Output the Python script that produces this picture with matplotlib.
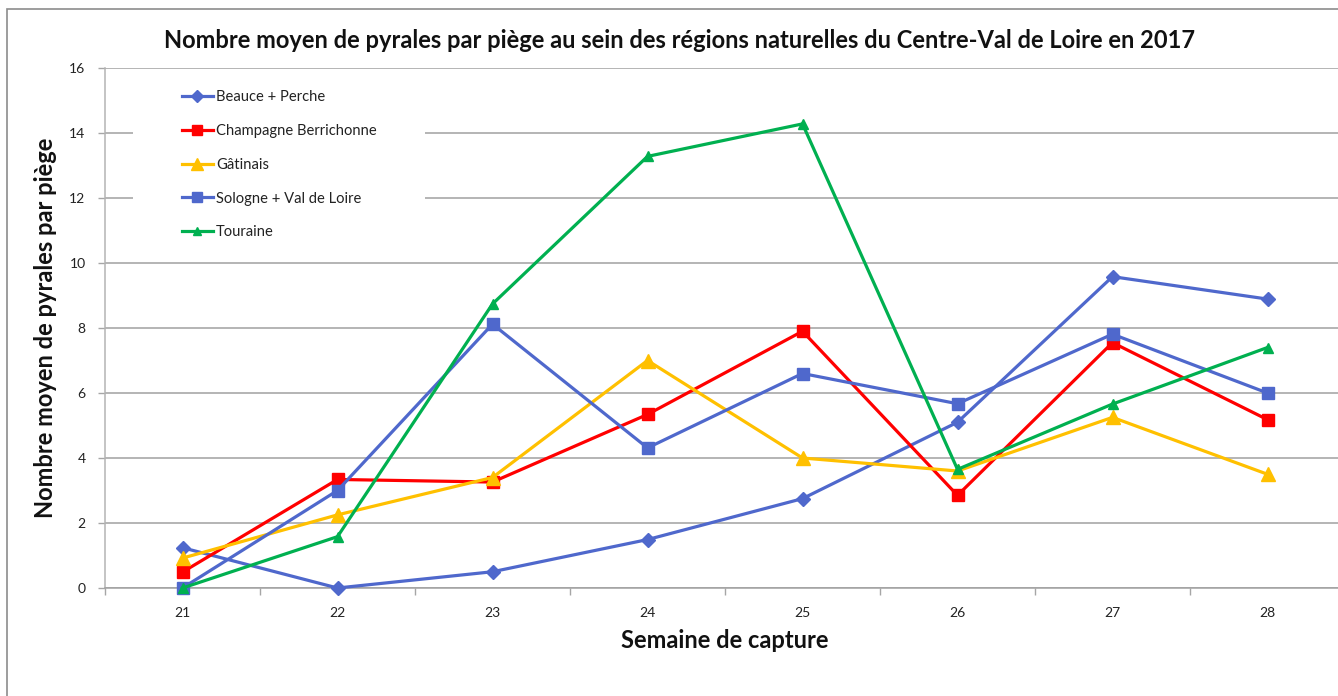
import matplotlib
matplotlib.use("Agg")
import matplotlib.pyplot as plt
from matplotlib.patches import Rectangle
from matplotlib.ticker import FixedLocator

plt.rcParams['font.family'] = ['Lato', 'DejaVu Sans']

weeks = [21, 22, 23, 24, 25, 26, 27, 28]
week_labels = ['21', '22', '23', '24', '25', '26', '27', '28']
beauce = [1.24, 0.0, 0.5, 1.49, 2.75, 5.1, 9.58, 8.89]
champagne = [0.49, 3.34, 3.26, 5.34, 7.9, 2.85, 7.55, 5.18]
gatinais = [0.92, 2.25, 3.4, 7.0, 4.0, 3.6, 5.25, 3.5]
sologne = [0.0, 3.0, 8.12, 4.31, 6.6, 5.67, 7.81, 6.0]
touraine = [0.0, 1.58, 8.74, 13.28, 14.28, 3.65, 5.66, 7.4]
series_names = ['Beauce + Perche', 'Champagne Berrichonne', 'Gâtinais',
                'Sologne + Val de Loire', 'Touraine']
y_ticks = [0, 2, 4, 6, 8, 10, 12, 14, 16]

W, H = 1338, 696
fig = plt.figure(figsize=(W / 100, H / 100), dpi=100)
fig.patch.set_facecolor('white')

# chart area border (cropped at right/bottom)
fig.patches.append(Rectangle((7 / W, -0.05), 1.1, 1 - 9 / H + 0.05,
                             transform=fig.transFigure, fill=False,
                             edgecolor='#8c8c8c', linewidth=1.2))

ax = fig.add_axes([105 / W, (H - 588) / H, (1345 - 105) / W, 520 / H])
ax.set_xlim(20.5, 28.5)
ax.set_ylim(0, 16)

ax.set_yticks(y_ticks)
ax.set_yticklabels([str(v) for v in y_ticks])
ax.set_xticks(weeks)
ax.set_xticklabels(week_labels)
ax.xaxis.set_minor_locator(FixedLocator([w - 0.5 for w in weeks] + [weeks[-1] + 0.5]))
ax.tick_params(axis='x', which='major', length=0, pad=14, labelsize=10, colors='#222222')
ax.tick_params(axis='x', which='minor', length=5, width=1, color='#a6a6a6', direction='out')
ax.tick_params(axis='y', which='major', length=5, width=1, color='#a6a6a6', pad=9,
               labelsize=10, labelcolor='#222222')

ax.grid(axis='y', color='#a0a0a0', linewidth=1.1)
ax.set_axisbelow(True)
for s in ['top', 'right']:
    ax.spines[s].set_visible(False)
ax.spines['left'].set_color('#b4b4b4')
ax.spines['bottom'].set_color('#a0a0a0')
ax.spines['left'].set_linewidth(1.1)
ax.spines['bottom'].set_linewidth(1.1)

blue = '#4f68cc'
styles = [
    (beauce, blue, 'D', 7.5),
    (champagne, '#ff0000', 's', 8.5),
    (gatinais, '#ffc000', '^', 9.5),
    (sologne, blue, 's', 8.5),
    (touraine, '#00b050', '^', 7.5),
]
handles = []
for i, (vals, col, mk, ms) in enumerate(styles):
    h, = ax.plot(weeks, vals, color=col, marker=mk, markersize=ms, linewidth=2.3,
                 markeredgecolor=col, label=series_names[i], zorder=3 + i,
                 clip_on=False)
    handles.append(h)

# white legend background covering gridlines
ax.add_patch(Rectangle((133 / W, 1 - 250 / H), (425 - 133) / W, (250 - 75) / H,
                       transform=fig.transFigure, facecolor='white', edgecolor='none',
                       zorder=2))
leg = ax.legend(handles=handles, loc='upper left', frameon=False,
                bbox_to_anchor=(182 / W, 1 - 90 / H), bbox_transform=fig.transFigure,
                borderpad=0, borderaxespad=0, fontsize=10.6, handlelength=2.1,
                handletextpad=0.2, labelspacing=1.35, markerscale=0.85)
leg.set_zorder(20)
for t in leg.get_texts():
    t.set_color('#222222')

fig.text(680 / W, 1 - 40 / H,
         'Nombre moyen de pyrales par piège au sein des régions naturelles du Centre-Val de Loire en 2017',
         ha='center', va='center', fontsize=17, fontweight='bold', color='#111111')
fig.text(724.5 / W, 1 - 640 / H, 'Semaine de capture', ha='center', va='center',
         fontsize=17, fontweight='bold', color='#111111')
fig.text(46 / W, 1 - 328 / H, 'Nombre moyen de pyrales par piège', ha='center',
         va='center', rotation=90, fontsize=17, fontweight='bold', color='#111111')

fig.savefig('out.png', dpi=100)
